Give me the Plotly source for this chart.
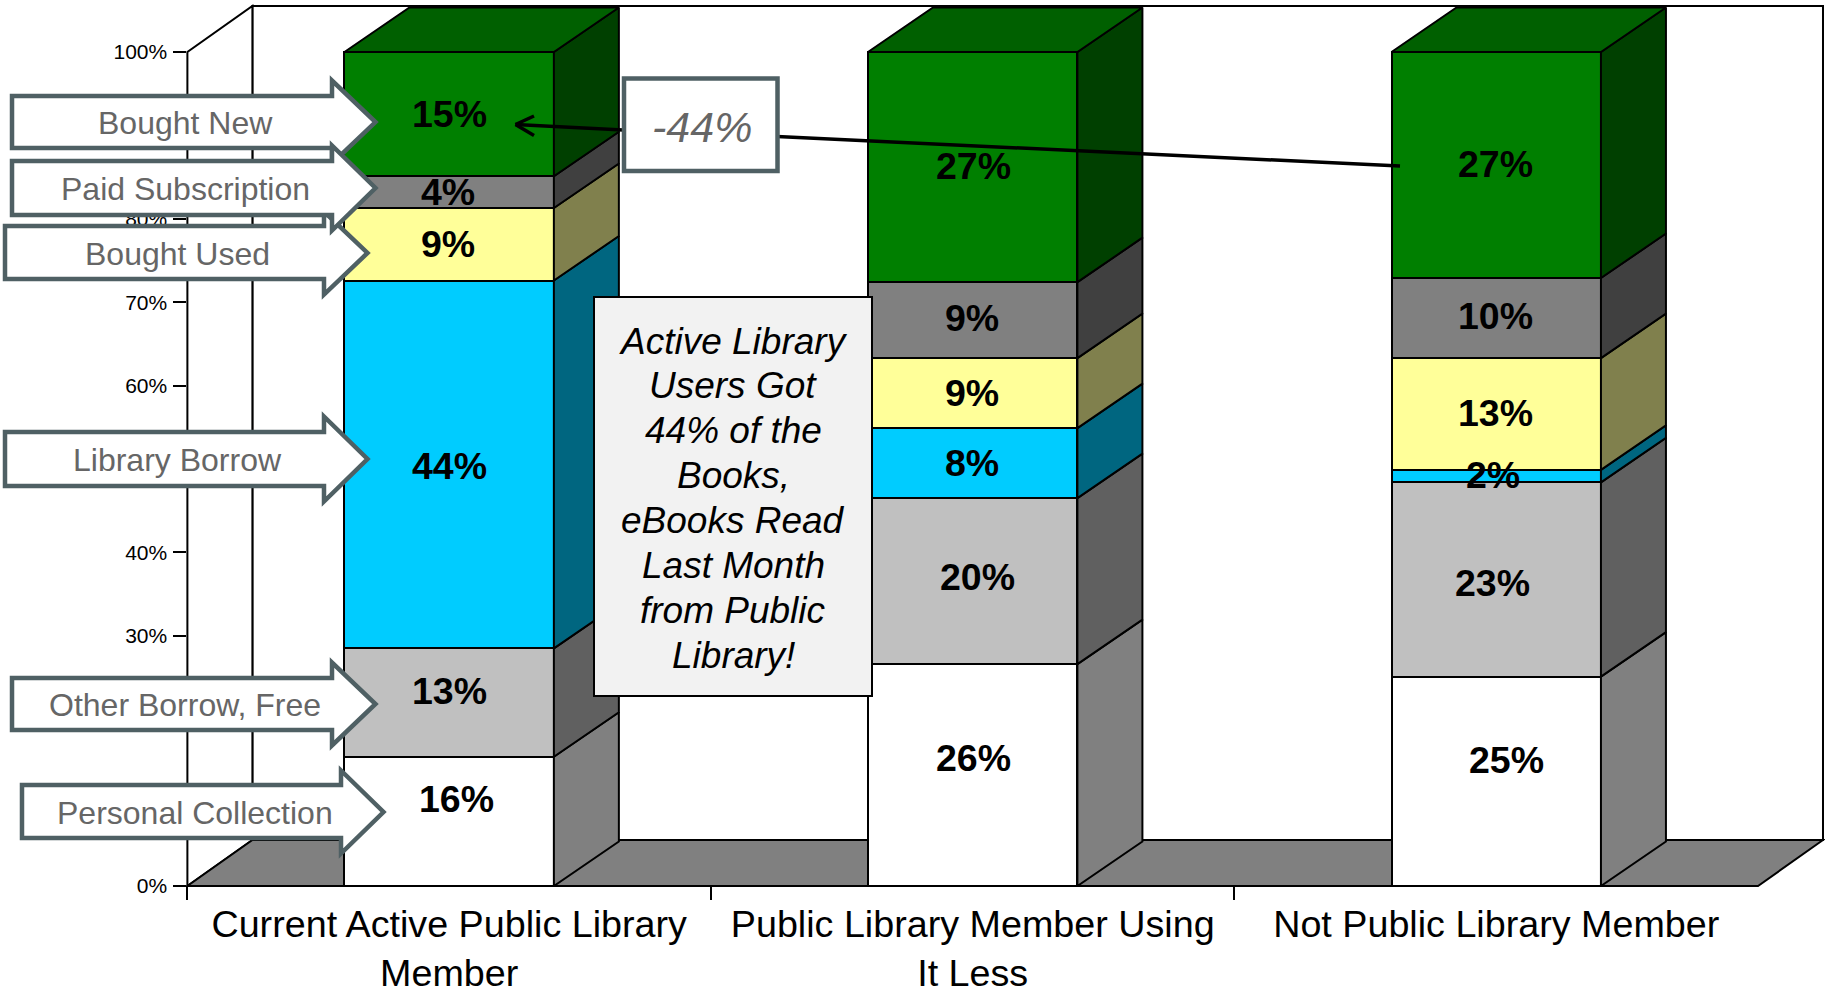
import plotly.graph_objects as go

W, H = 1825, 989

# ---- data -------------------------------------------------------------
categories = ["Current Active Public Library<br>Member",
              "Public Library Member Using<br>It Less",
              "Not Public Library Member"]
personal_collection = [15.5, 26.6, 25.1]
other_borrow = [13.0, 19.9, 23.3]
library_borrow = [44.1, 8.4, 1.5]
bought_used = [8.7, 8.4, 13.4]
paid_subscription = [3.8, 9.1, 9.6]
bought_new = [14.9, 27.6, 27.1]
series_names = ["Personal Collection", "Other Borrow, Free", "Library Borrow",
                "Bought Used", "Paid Subscription", "Bought New"]
series_values = [personal_collection, other_borrow, library_borrow,
                 bought_used, paid_subscription, bought_new]
label_text = [["16%", "26%", "25%"], ["13%", "20%", "23%"], ["44%", "8%", "2%"],
              ["9%", "9%", "13%"], ["4%", "9%", "10%"], ["15%", "27%", "27%"]]
y_ticks = [0, 10, 20, 30, 40, 50, 60, 70, 80, 90, 100]
y_tick_text = ["0%", "10%", "20%", "30%", "40%", "50%", "60%", "70%", "80%", "90%", "100%"]

# ---- styles ------------------------------------------------------------
front_colors = ["#FFFFFF", "#C0C0C0", "#00CCFF", "#FFFF99", "#808080", "#007F00"]
side_colors = ["#808080", "#606060", "#006680", "#80804D", "#404040", "#004000"]
top_color = "#006000"
FONT = "Liberation Sans"
CALLOUT_LINE = "#4F6064"
CALLOUT_TEXT = "#666666"

# ---- geometry (pixels) -------------------------------------------------
AX_L, AX_R_FRONT, AX_R_BACK = 187.4, 1758.0, 1823.0
Y0, Y100, Y_TOP = 886.0, 52.0, 6.0
DX_PX, DY_PX = AX_R_BACK - AX_R_FRONT, 46.0
BAR_DY_PX = 44.5
CAT_PX = (AX_R_FRONT - AX_L) / 3
PX_PER_PCT = (Y0 - Y100) / 100


def px(x):
    return x / W


def py(y):
    return 1 - y / H


def path(points):
    return "M " + " L ".join(f"{px(a):.5f} {py(b):.5f}" for a, b in points) + " Z"


def poly(points, fill, line="black", width=2, layer="above"):
    return dict(type="path", xref="paper", yref="paper", path=path(points),
                fillcolor=fill, line=dict(color=line, width=width), layer=layer)


def seg(a, b, width=3.5):
    return dict(type="line", xref="paper", yref="paper", x0=px(a[0]), y0=py(a[1]),
                x1=px(b[0]), y1=py(b[1]), line=dict(color="black", width=width), layer="above")


def label(x, y, text, size, color):
    return dict(x=px(x), y=py(y), xref="paper", yref="paper", text=text, showarrow=False,
                xanchor="center", yanchor="middle",
                font=dict(family=FONT, size=size, color=color))


fig = go.Figure()
BAR_W = 0.4
dx_u = DX_PX / CAT_PX
dy_u = BAR_DY_PX / PX_PER_PCT

# fronts
for name, vals, col in zip(series_names, series_values, front_colors):
    fig.add_trace(go.Bar(x=[0, 1, 2], y=vals, name=name, width=BAR_W,
                         marker=dict(color=col, line=dict(color="black", width=2)),
                         showlegend=False, hoverinfo="skip"))

# sides and tops computed from the same data
base = [0.0, 0.0, 0.0]
for name, vals, col in zip(series_names, series_values, side_colors):
    xs, ys = [], []
    for i in range(3):
        r = i + BAR_W / 2
        b, t = base[i], base[i] + vals[i]
        xs += [r, r + dx_u, r + dx_u, r, r, None]
        ys += [b, b + dy_u, t + dy_u, t, b, None]
    fig.add_trace(go.Scatter(x=xs, y=ys, mode="lines", fill="toself", fillcolor=col,
                             line=dict(color="black", width=2), cliponaxis=False,
                             showlegend=False, hoverinfo="skip"))
    base = [p + v for p, v in zip(base, vals)]

xs, ys = [], []
for i in range(3):
    l, r = i - BAR_W / 2, i + BAR_W / 2
    t = base[i]
    xs += [l, r, r + dx_u, l + dx_u, l, None]
    ys += [t, t, t + dy_u, t + dy_u, t, None]
fig.add_trace(go.Scatter(x=xs, y=ys, mode="lines", fill="toself", fillcolor=top_color,
                         line=dict(color="black", width=2), cliponaxis=False,
                         showlegend=False, hoverinfo="skip"))

# ---- walls, floor ------------------------------------------------------
BACK_BOTTOM = Y0 - DY_PX
BACK_L = AX_L + DX_PX
shapes = [
    poly([(BACK_L, Y_TOP), (AX_R_BACK, Y_TOP), (AX_R_BACK, BACK_BOTTOM), (BACK_L, BACK_BOTTOM)],
         "white", layer="below"),
    poly([(AX_L, Y0), (BACK_L, BACK_BOTTOM), (BACK_L, Y_TOP), (AX_L, Y100)], "white", layer="below"),
    poly([(AX_L, Y0), (AX_R_FRONT, Y0), (AX_R_BACK, BACK_BOTTOM), (BACK_L, BACK_BOTTOM)],
         "#808080", layer="below"),
]

# ---- comparison arrow --------------------------------------------------
TIP = (515.5, 124.5)
shapes += [seg((1400, 166), (777, 136.5)), seg((623, 130), TIP),
           seg(TIP, (534, 116)), seg(TIP, (534, 135.5))]

# ---- note boxes --------------------------------------------------------
shapes.append(poly([(624, 78.5), (777.5, 78.5), (777.5, 171), (624, 171)], "white", CALLOUT_LINE, 4.5))
shapes.append(poly([(594, 297), (872, 297), (872, 696), (594, 696)], "#F2F2F2", "black", 2))

# ---- callouts: left, body top, body bottom, head x, head half height, tip x, centre y
callouts = [
    ("Personal Collection", 22, 785, 838, 341, 41.5, 383.5, 812, 195),
    ("Other Borrow, Free", 12, 678, 730, 332, 41.5, 375.5, 704, 185),
    ("Library Borrow", 5, 432, 486, 324, 42.5, 367.5, 459, 177),
    ("Bought Used", 5, 226, 279, 324, 41.5, 367.5, 253, 177),
    ("Bought New", 12, 96, 148, 332, 41.5, 375.5, 122, 185),
    ("Paid Subscription", 12, 161, 215, 332, 42.5, 375.5, 188, 185),
]
annotations = []
for txt, left, top, bot, hx, hh, tx, cy, tcx in callouts:
    shapes.append(poly([(left, top), (hx, top), (hx, cy - hh), (tx, cy), (hx, cy + hh),
                        (hx, bot), (left, bot)], "white", CALLOUT_LINE, 4.5))
    annotations.append(label(tcx, cy + 1, txt, 32, CALLOUT_TEXT))

annotations.append(label(702, 127, "<i>-44%</i>", 43, CALLOUT_TEXT))

note_lines = ["Active Library", "Users Got", "44% of the", "Books,", "eBooks Read",
              "Last Month", "from Public", "Library!"]
for k, line in enumerate(note_lines):
    annotations.append(label(733, 341 + k * 44.9, f"<i>{line}</i>", 37, "black"))

# ---- data labels: hand-placed as in the original -----------------------
label_px_x = [[456, 974, 1506], [449, 977, 1492], [449, 972, 1493],
              [448, 972, 1495], [448, 972, 1495], [449, 973, 1495]]
label_px_y = [[799, 758, 760], [691, 577, 583], [466, 463, 475],
              [244, 393, 413], [192, 318, 316], [114, 166, 164]]
for j in range(6):
    for i in range(3):
        annotations.append(label(label_px_x[j][i], label_px_y[j][i],
                                 f"<b>{label_text[j][i]}</b>", 37.5, "black"))

fig.update_layout(
    width=W, height=H, barmode="stack", bargap=0.6,
    margin=dict(l=0, r=0, t=0, b=0), autosize=False,
    paper_bgcolor="white", plot_bgcolor="rgba(0,0,0,0)",
    shapes=shapes, annotations=annotations, showlegend=False,
    xaxis=dict(domain=[px(AX_L), px(AX_R_BACK)], automargin=False,
               range=[-0.5, -0.5 + (AX_R_BACK - AX_L) / CAT_PX],
               tickmode="array", tickvals=[0, 1, 2], ticktext=categories,
               tickfont=dict(family=FONT, size=37.7, color="black"),
               ticks="outside", ticklen=5, tickcolor="rgba(0,0,0,0)", tickwidth=1,
               minor=dict(tickmode="array", tickvals=[-0.5, 0.5, 1.5], ticks="outside",
                          ticklen=13, tickcolor="black", tickwidth=2),
               showgrid=False, zeroline=False, showline=False, tickangle=0),
    yaxis=dict(domain=[py(Y0), py(Y_TOP)], range=[0, (Y0 - Y_TOP) / PX_PER_PCT],
               automargin=False,
               tickmode="array", tickvals=y_ticks, ticktext=y_tick_text,
               tickfont=dict(family=FONT, size=21, color="black"),
               ticks="outside", ticklen=13, tickcolor="black", tickwidth=2,
               ticklabelstandoff=2,
               showgrid=False, zeroline=False, showline=False),
)

fig.write_html("out.html", config=dict(displayModeBar=False),
               post_script="document.body.style.margin='0';document.body.style.overflow='hidden';")
